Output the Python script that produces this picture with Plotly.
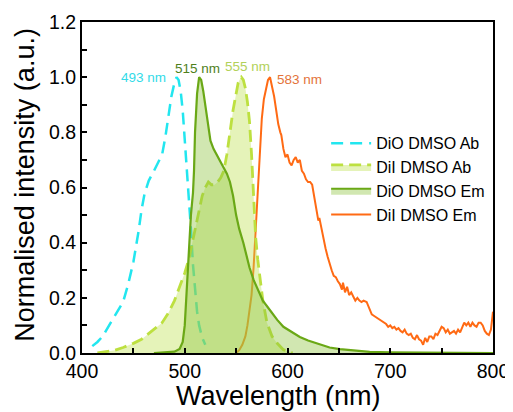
import plotly.graph_objects as go

# ---------------- data ----------------
dio_ab_wl = [410, 415, 420, 425, 430, 435, 440, 445, 450, 455, 458, 461, 465, 470, 475, 478,
             481, 484, 487, 490, 492, 494, 496, 498, 500, 502, 504, 506, 508, 510, 512, 514, 517, 520]
dio_ab = [0.025, 0.04, 0.06, 0.09, 0.12, 0.15, 0.185, 0.25, 0.33, 0.44, 0.52, 0.58, 0.625, 0.66, 0.695, 0.72,
          0.78, 0.86, 0.93, 0.98, 1.0, 0.99, 0.95, 0.88, 0.78, 0.66, 0.55, 0.45, 0.32, 0.22, 0.15, 0.10, 0.055, 0.03]

dii_ab_wl = [415, 425, 432, 440, 450, 458, 465, 472, 478, 484, 490, 495, 500, 504, 508, 511, 514, 517,
             520, 523, 526, 529, 532, 535, 538, 541, 544, 547, 550, 552, 554, 555, 557, 559, 561, 563,
             565, 567, 569, 571, 573, 576, 580, 585, 590, 596, 605]
dii_ab = [0.0, 0.005, 0.01, 0.02, 0.035, 0.05, 0.07, 0.09, 0.11, 0.145, 0.19, 0.24, 0.29, 0.34, 0.41, 0.47,
          0.52, 0.57, 0.60, 0.62, 0.61, 0.61, 0.62, 0.635, 0.66, 0.72, 0.80, 0.88, 0.94, 0.98, 0.995, 1.0,
          0.99, 0.96, 0.91, 0.84, 0.72, 0.57, 0.42, 0.34, 0.28, 0.19, 0.11, 0.06, 0.035, 0.012, 0.0]

dio_em_wl = [470, 480, 490, 495, 498, 500, 502, 504, 506, 508, 509, 510, 511, 512, 514, 516, 518, 520,
             522, 525, 528, 531, 534, 537, 541, 544, 547, 550, 553, 557, 560, 563, 567, 571, 576, 583,
             590, 596, 602, 612, 620, 632, 641, 651, 665, 680, 700, 750, 800]
dio_em = [0.0, 0.002, 0.005, 0.015, 0.04, 0.10, 0.25, 0.38, 0.50, 0.58, 0.66, 0.80, 0.88, 0.94, 1.0, 0.99,
          0.95, 0.90, 0.84, 0.77, 0.74, 0.72, 0.70, 0.68, 0.65, 0.62, 0.57, 0.50, 0.45, 0.40, 0.35, 0.31,
          0.265, 0.23, 0.19, 0.155, 0.12, 0.095, 0.08, 0.058, 0.045, 0.03, 0.02, 0.014, 0.008, 0.004,
          0.002, 0.0, 0.0]

dii_em_wl = [550, 553, 556, 559, 561, 563, 565, 567, 569, 571, 573, 575, 577, 579, 581, 583, 585, 587,
             589, 591, 593, 594, 596, 598, 600, 602, 604, 606, 608, 610, 612, 614, 616, 618, 620, 622,
             624, 626, 628, 630, 631, 633, 635, 637, 639, 641, 643, 645, 647, 649, 651, 653, 654, 656,
             658, 660, 662, 664, 666, 668, 670, 672, 674, 677, 680, 682, 684, 686, 688, 690, 692, 694,
             696, 698, 700, 702, 704, 706, 708, 710, 712, 714, 716, 718, 720, 722, 724, 726, 728, 730,
             732, 734, 736, 738, 740, 742, 744, 746, 748, 750, 752, 754, 756, 758, 760, 762, 764, 766,
             768, 770, 772, 774, 776, 778, 780, 782, 784, 786, 788, 790, 792, 794, 796, 798, 800]
dii_em = [0.0, 0.01, 0.03, 0.06, 0.10, 0.15, 0.21, 0.31, 0.45, 0.58, 0.74, 0.85, 0.92, 0.96, 0.99, 1.0,
          0.97, 0.93, 0.88, 0.83, 0.80, 0.79, 0.74, 0.71, 0.72, 0.69, 0.68, 0.70, 0.71, 0.69, 0.70, 0.66,
          0.65, 0.63, 0.62, 0.62, 0.61, 0.57, 0.53, 0.48, 0.49, 0.45, 0.41, 0.38, 0.35, 0.32, 0.30, 0.28,
          0.275, 0.26, 0.25, 0.23, 0.255, 0.22, 0.24, 0.21, 0.22, 0.205, 0.19, 0.20, 0.19, 0.185, 0.19,
          0.185, 0.16, 0.14, 0.135, 0.13, 0.125, 0.12, 0.115, 0.11, 0.105, 0.095, 0.10, 0.09, 0.095,
          0.085, 0.09, 0.08, 0.075, 0.085, 0.07, 0.065, 0.07, 0.055, 0.05, 0.065, 0.05, 0.045, 0.03,
          0.055, 0.04, 0.06, 0.06, 0.05, 0.07, 0.065, 0.08, 0.095, 0.09, 0.075, 0.085, 0.07, 0.075,
          0.08, 0.07, 0.085, 0.075, 0.09, 0.11, 0.10, 0.11, 0.095, 0.11, 0.10, 0.095, 0.11, 0.11, 0.10,
          0.08, 0.07, 0.065, 0.085, 0.15]

peak_labels = ["493 nm", "515 nm", "555 nm", "583 nm"]
peak_label_x = [460, 512, 561.5, 612]
peak_label_y = [0.997, 1.033, 1.037, 0.993]
peak_label_colors = ["#33dbe8", "#4f7f1c", "#b2d159", "#e4733a"]

x_ticks = [400, 500, 600, 700, 800]
y_ticks = [0.0, 0.2, 0.4, 0.6, 0.8, 1.0, 1.2]
x_title = "Wavelength (nm)"
y_title = "Normalised intensity (a.u.)"

FONT = "Liberation Sans, Arial, sans-serif"

# ---------------- figure ----------------
fig = go.Figure()

fig.add_trace(go.Scatter(
    x=dio_ab_wl, y=dio_ab, mode="lines", name="DiO DMSO Ab",
    line=dict(color="#22e6ef", width=2.5, dash="12px,7px"), legendrank=1))

fig.add_trace(go.Scatter(
    x=dii_em_wl, y=dii_em, mode="lines", name="DiI DMSO Em",
    line=dict(color="#ff6a14", width=2), legendrank=4))

fig.add_trace(go.Scatter(
    x=dii_ab_wl, y=dii_ab, mode="lines", name="DiI DMSO Ab", fill="tozeroy",
    fillcolor="rgba(190,224,80,0.4)",
    line=dict(color="#bde040", width=2.8, dash="12px,6px"), legendrank=2))

fig.add_trace(go.Scatter(
    x=dio_em_wl, y=dio_em, mode="lines", name="DiO DMSO Em", fill="tozeroy",
    fillcolor="rgba(140,195,60,0.4)",
    line=dict(color="#6aa816", width=2.2), legendrank=3))

for t, xx, yy, c in zip(peak_labels, peak_label_x, peak_label_y, peak_label_colors):
    fig.add_annotation(x=xx, y=yy, text=t, showarrow=False,
                       font=dict(size=13.5, color=c, family=FONT))

# axis titles
fig.add_annotation(x=0.478, y=-0.13, xref="paper", yref="paper", text=x_title,
                   showarrow=False, xanchor="center", yanchor="middle",
                   font=dict(size=27, color="black", family=FONT))
fig.add_annotation(x=-0.139, y=0.508, xref="paper", yref="paper", text=y_title,
                   showarrow=False, xanchor="center", yanchor="middle", textangle=-90,
                   font=dict(size=27, color="black", family=FONT))

axis_common = dict(
    showline=True, linecolor="black", linewidth=2, mirror=True,
    ticks="inside", ticklen=5, tickwidth=2, tickcolor="black",
    showgrid=False, zeroline=False, automargin=False,
    tickfont=dict(size=19.5, color="black", family=FONT),
)

fig.update_xaxes(
    range=[400, 800], tickvals=x_ticks, ticktext=[str(v) for v in x_ticks],
    minor=dict(ticks="inside", ticklen=5, tickwidth=2, tickcolor="black", dtick=50, tick0=400),
    **axis_common)

fig.update_yaxes(
    range=[0, 1.2], tickvals=y_ticks, ticktext=[f"{v:.1f}" for v in y_ticks],
    minor=dict(ticks="inside", ticklen=5, tickwidth=2, tickcolor="black", dtick=0.1, tick0=0),
    **axis_common)

# page body has an 8px default margin: shrink the figure so the plot lands
# at the same place as in the 513x412 reference (plot area 82..493 x 22..353)
fig.update_layout(
    width=505, height=404,
    margin=dict(l=74, r=20, t=14, b=59),
    plot_bgcolor="white", paper_bgcolor="white",
    showlegend=True,
    legend=dict(x=0.594, y=0.685, xanchor="left", yanchor="top",
                bgcolor="rgba(0,0,0,0)", borderwidth=0, itemwidth=40,
                tracegroupgap=0,
                font=dict(size=16, color="black", family=FONT)),
)

fig.write_html("out.html")
